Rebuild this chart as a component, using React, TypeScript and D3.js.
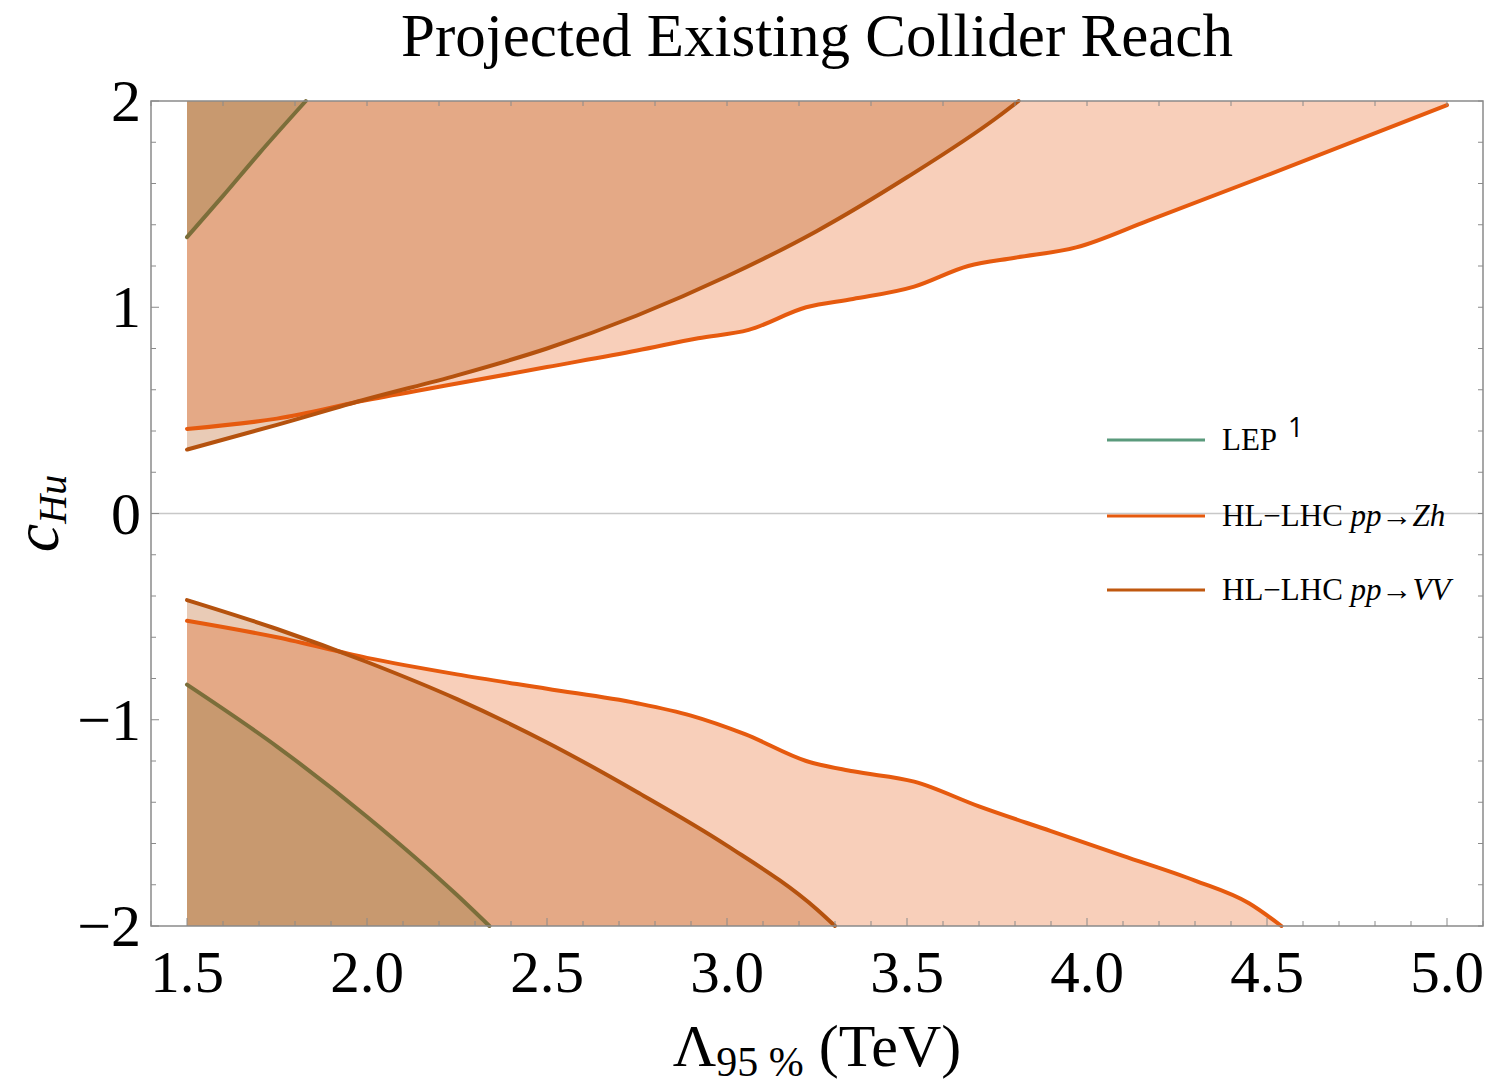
import React, { useEffect, useRef } from 'react';
import * as d3 from 'd3';

// boundary curves: [Lambda (TeV), c_Hu]
const lepUpper = [[1.5, 1.34], [1.6, 1.54], [1.7, 1.745], [1.83, 2.0]];
const lepLower = [[1.5, -0.83], [1.75, -1.13], [2.0, -1.47], [2.25, -1.85], [2.34, -2.0]];
const vvUpper = [[1.5, 0.31], [1.75, 0.43], [2.0, 0.555], [2.25, 0.67], [2.5, 0.80], [2.75, 0.96], [3.0, 1.15], [3.25, 1.37], [3.5, 1.63], [3.75, 1.92], [3.81, 2.0]];
const vvLower = [[1.5, -0.42], [1.75, -0.56], [2.0, -0.72], [2.25, -0.90], [2.5, -1.11], [2.75, -1.35], [3.0, -1.61], [3.25, -1.92], [3.3, -2.0]];
const zhUpper = [[1.5, 0.41], [1.75, 0.46], [2.0, 0.55], [2.25, 0.63], [2.5, 0.71], [2.75, 0.79], [2.92, 0.85], [3.06, 0.89], [3.22, 1.0], [3.35, 1.04], [3.52, 1.10], [3.67, 1.2], [3.8, 1.24], [3.97, 1.29], [4.17, 1.42], [4.5, 1.64], [5.0, 1.98]];
const zhLower = [[1.5, -0.52], [1.75, -0.60], [2.0, -0.70], [2.25, -0.78], [2.5, -0.85], [2.75, -0.92], [2.9, -0.98], [3.05, -1.07], [3.22, -1.2], [3.35, -1.25], [3.52, -1.30], [3.7, -1.42], [3.9, -1.54], [4.1, -1.66], [4.3, -1.78], [4.45, -1.89], [4.54, -2.0]];

const xTicks = [1.5, 2.0, 2.5, 3.0, 3.5, 4.0, 4.5, 5.0];
const yTicks = [-2, -1, 0, 1, 2];
const legendItems = ['LEP', 'HL−LHC pp→Zh', 'HL−LHC pp→VV'];

const serif = '"Liberation Serif", "Times New Roman", serif';

export default function App() {
    const ref = useRef<SVGSVGElement>(null);

    useEffect(() => {
        const width = 1494, height = 1084;
        const margin = { top: 101, right: 11, bottom: 158, left: 151 };

        const x = d3.scaleLinear().domain([1.4, 5.1]).range([margin.left, width - margin.right]);
        const y = d3.scaleLinear().domain([-2, 2]).range([height - margin.bottom, margin.top]);

        const svg = d3.select(ref.current);
        svg.selectAll('*').remove();

        const line = d3.line<number[]>().x(d => x(d[0])).y(d => y(d[1])).curve(d3.curveMonotoneX);
        const areaTo = (edge: number) => d3.area<number[]>()
            .x(d => x(d[0])).y0(y(edge)).y1(d => y(d[1])).curve(d3.curveMonotoneX);

        // fills, semi transparent so the overlaps darken like the original
        const regions = [
            { data: zhUpper, edge: 2, color: '#e8601c' },
            { data: zhLower, edge: -2, color: '#e8601c' },
            { data: vvUpper, edge: 2, color: '#b5520e' },
            { data: vvLower, edge: -2, color: '#b5520e' },
            { data: lepUpper, edge: 2, color: '#87753b' },
            { data: lepLower, edge: -2, color: '#87753b' },
        ];
        svg.append('g').selectAll('path').data(regions).enter().append('path')
            .attr('d', d => areaTo(d.edge)(d.data))
            .attr('fill', d => d.color)
            .attr('fill-opacity', 0.3);

        // zero line
        svg.append('line')
            .attr('x1', x(1.4)).attr('x2', x(5.1))
            .attr('y1', y(0)).attr('y2', y(0))
            .attr('stroke', '#c8c8c8').attr('stroke-width', 1.5);

        const curves = [
            { data: lepUpper, color: '#7b6e3a' },
            { data: lepLower, color: '#7b6e3a' },
            { data: zhUpper, color: '#e65a0e' },
            { data: zhLower, color: '#e65a0e' },
            { data: vvUpper, color: '#b5520e' },
            { data: vvLower, color: '#b5520e' },
        ];
        svg.append('g').selectAll('path').data(curves).enter().append('path')
            .attr('d', d => line(d.data))
            .attr('fill', 'none')
            .attr('stroke', d => d.color)
            .attr('stroke-width', 4)
            .attr('stroke-linecap', 'round');

        // frame
        svg.append('rect')
            .attr('x', x(1.4)).attr('y', y(2))
            .attr('width', x(5.1) - x(1.4)).attr('height', y(-2) - y(2))
            .attr('fill', 'none').attr('stroke', '#8a8a8a').attr('stroke-width', 1.5);

        // ticks: bottom every 0.1, top every 0.2, left/right every 0.2
        const tk = svg.append('g').attr('stroke', '#8a8a8a').attr('stroke-width', 1);
        d3.range(14, 52).map(i => i / 10).forEach(v => {
            const major = Math.abs(v * 2 - Math.round(v * 2)) < 1e-6;
            tk.append('line').attr('x1', x(v)).attr('x2', x(v))
                .attr('y1', y(-2)).attr('y2', y(-2) - (major ? 8 : 5));
        });
        d3.range(7, 26).map(i => i / 5).forEach(v => {
            tk.append('line').attr('x1', x(v)).attr('x2', x(v))
                .attr('y1', y(2)).attr('y2', y(2) + 5);
        });
        d3.range(-10, 11).map(i => i / 5).forEach(v => {
            const major = Math.abs(v - Math.round(v)) < 1e-6;
            tk.append('line').attr('x1', x(1.4)).attr('x2', x(1.4) + (major ? 8 : 5))
                .attr('y1', y(v)).attr('y2', y(v));
            tk.append('line').attr('x1', x(5.1)).attr('x2', x(5.1) - 5)
                .attr('y1', y(v)).attr('y2', y(v));
        });

        // tick labels
        svg.append('g').selectAll('text').data(xTicks).enter().append('text')
            .attr('x', d => x(d)).attr('y', y(-2) + 66)
            .attr('text-anchor', 'middle')
            .style('font-family', serif).style('font-size', '59px')
            .text(d => d.toFixed(1));
        svg.append('g').selectAll('text').data(yTicks).enter().append('text')
            .attr('x', x(1.4) - 10).attr('y', d => y(d) + 20)
            .attr('text-anchor', 'end')
            .style('font-family', serif).style('font-size', '60px')
            .text(d => (d < 0 ? '−' + Math.abs(d) : String(d)));

        // title
        svg.append('text')
            .attr('x', (x(1.4) + x(5.1)) / 2).attr('y', 56)
            .attr('text-anchor', 'middle')
            .style('font-family', serif).style('font-size', '61px')
            .text('Projected Existing Collider Reach');

        // x label
        const xl = svg.append('text')
            .attr('x', (x(1.4) + x(5.1)) / 2).attr('y', 1066)
            .attr('text-anchor', 'middle')
            .style('font-family', serif).style('font-size', '60px');
        xl.append('tspan').text('Λ');
        xl.append('tspan').attr('dy', 10).style('font-size', '42px').text('95 %');
        xl.append('tspan').attr('dy', -10).text(' (TeV)');

        // y label
        const yl = svg.append('text')
            .attr('transform', `translate(58,${y(0)}) rotate(-90)`)
            .attr('text-anchor', 'middle')
            .style('font-family', serif).style('font-style', 'italic').style('font-size', '64px');
        yl.append('tspan').text('c');
        yl.append('tspan').attr('dy', 8).style('font-size', '40px').text('Hu');

        // legend
        const lg = svg.append('g');
        const legendColors = ['#5a9a7c', '#e65a0e', '#c0580f'];
        const legendY = [440, 516, 590];
        legendItems.forEach((name, i) => {
            lg.append('line').attr('x1', 1107).attr('x2', 1205)
                .attr('y1', legendY[i]).attr('y2', legendY[i])
                .attr('stroke', legendColors[i]).attr('stroke-width', 3);
            const t = lg.append('text').attr('x', 1222).attr('y', legendY[i] + 10)
                .style('font-family', serif).style('font-size', '31px');
            if (i === 0) {
                t.append('tspan').text('LEP');
            } else {
                const proc = name.split('pp→')[1];
                t.append('tspan').text('HL−LHC ');
                t.append('tspan').style('font-style', 'italic').text('pp');
                t.append('tspan').text('→');
                t.append('tspan').style('font-style', 'italic').text(proc);
            }
        });
        lg.append('text').attr('x', 1288).attr('y', 437)
            .style('font-family', '"Open Sans", "Liberation Sans", sans-serif').style('font-size', '27px')
            .text('1');
    }, []);

    return (
        <div style={{ position: 'absolute', left: 0, top: 0 }}>
            <svg ref={ref} width={1494} height={1084} style={{ display: 'block', background: '#fff' }} />
        </div>
    );
}
